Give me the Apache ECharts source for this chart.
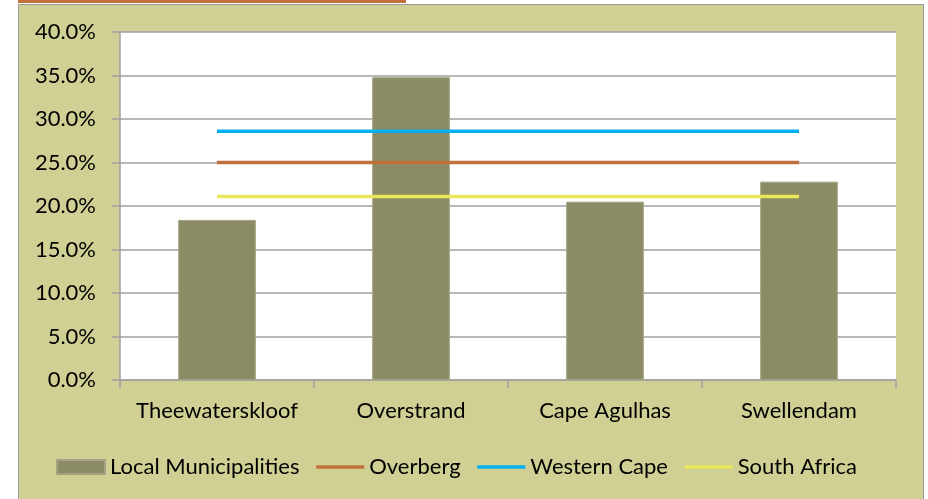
<!DOCTYPE html>
<html>
<head>
<meta charset="utf-8">
<script src="https://cdn.jsdelivr.net/npm/echarts@6/dist/echarts.min.js"></script>
<style>
  html, body { margin: 0; padding: 0; background: #fff; }
  #chart { width: 928px; height: 499px; }
</style>
</head>
<body>
<div id="chart"></div>
<script>
// municipality data (percent)
const categories = ['Theewaterskloof', 'Overstrand', 'Cape Agulhas', 'Swellendam'];
const localValues = [18.4, 34.8, 20.5, 22.8];
const overbergValues = [25.0, 25.0, 25.0, 25.0];
const westernCapeValues = [28.6, 28.6, 28.6, 28.6];
const southAfricaValues = [21.1, 21.1, 21.1, 21.1];

const font = 'Lato, "Open Sans", sans-serif';
const noDot = { color: 'rgba(0,0,0,0)', borderWidth: 0 };

const chart = echarts.init(document.getElementById('chart'));

chart.setOption({
  backgroundColor: '#ffffff',
  animation: false,
  textStyle: { fontFamily: font },
  graphic: [
    {
      type: 'rect',
      z: -10,
      shape: { x: 18.5, y: 4.5, width: 905, height: 520 },
      style: { fill: '#D0D094', stroke: '#9a9a9a', lineWidth: 1 }
    },
    {
      type: 'rect',
      z: -9,
      shape: { x: 18, y: 0, width: 388, height: 3 },
      style: { fill: '#C0703A' }
    }
  ],
  grid: {
    left: 120,
    right: 32,
    top: 32,
    bottom: 119,
    show: true,
    backgroundColor: '#ffffff',
    borderWidth: 0
  },
  legend: {
    bottom: 16,
    left: 51,
    itemWidth: 48,
    itemHeight: 14,
    itemGap: 15,
    textStyle: { fontSize: 22, color: '#000', fontFamily: font },
    data: [
      { name: 'Local Municipalities', icon: 'rect' },
      { name: 'Overberg', itemStyle: noDot, lineStyle: { width: 3.5 } },
      { name: 'Western Cape', itemStyle: noDot, lineStyle: { width: 3.5 } },
      { name: 'South Africa', itemStyle: noDot, lineStyle: { width: 3.5 } }
    ]
  },
  xAxis: {
    type: 'category',
    data: categories,
    axisLine: { lineStyle: { color: '#a0a0a0', width: 1.5 } },
    axisTick: { show: true, length: 8, lineStyle: { color: '#a0a0a0', width: 1.5 } },
    axisLabel: { fontSize: 22, color: '#000', margin: 20, interval: 0, fontFamily: font }
  },
  yAxis: {
    type: 'value',
    min: 0,
    max: 40,
    interval: 5,
    axisLine: { show: true, lineStyle: { color: '#a0a0a0', width: 1.5 } },
    axisTick: { show: true, length: 8, lineStyle: { color: '#a0a0a0', width: 1.5 } },
    splitLine: { lineStyle: { color: '#a0a0a0', width: 1.5 } },
    axisLabel: {
      fontSize: 22,
      color: '#000',
      margin: 24,
      fontFamily: font,
      formatter: (v) => v.toFixed(1) + '%'
    }
  },
  series: [
    {
      name: 'Local Municipalities',
      type: 'bar',
      data: localValues,
      barWidth: '40%',
      itemStyle: { color: '#8B8B65', borderColor: '#A3A383', borderWidth: 1 }
    },
    {
      name: 'Overberg',
      type: 'line',
      data: overbergValues,
      symbol: 'none',
      lineStyle: { color: '#C0703A', width: 3.5 },
      itemStyle: { color: '#C0703A' }
    },
    {
      name: 'Western Cape',
      type: 'line',
      data: westernCapeValues,
      symbol: 'none',
      lineStyle: { color: '#00B0F0', width: 3.5 },
      itemStyle: { color: '#00B0F0' }
    },
    {
      name: 'South Africa',
      type: 'line',
      data: southAfricaValues,
      symbol: 'none',
      lineStyle: { color: '#EAE85A', width: 3.5 },
      itemStyle: { color: '#EAE85A' }
    }
  ]
});
</script>
</body>
</html>
